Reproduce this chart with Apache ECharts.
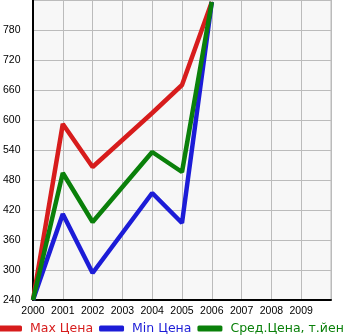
<!DOCTYPE html>
<html><head><meta charset="utf-8">
<script src="https://cdn.jsdelivr.net/npm/echarts@6/dist/echarts.min.js"></script>
<style>html,body{margin:0;padding:0;background:#fff}#c{width:345px;height:335px}</style>
</head><body><div id="c"></div>
<script>
const years = [2000, 2001, 2002, 2003, 2004, 2005, 2006];
const maxPrice = [240, 592, 506, 560, 614, 670, 836];
const minPrice = [240, 412, 294, 374, 454, 394, 836];
const avgPrice = [240, 494, 396, 466, 536, 496, 836];
const names = ['Max Цена', 'Min Цена', 'Сред.Цена, т.йен'];
const colors = ['#d71c1c', '#1c1cd7', '#0a800a'];

const chart = echarts.init(document.getElementById('c'), null, {renderer: 'canvas'});
const mk = (arr) => years.map((y, i) => [y, arr[i]]);
const font = 'DejaVu Sans';
const tickFont = 'Liberation Sans';
chart.setOption({
  animation: false,
  textStyle: {fontFamily: font},
  grid: {left: 31, right: 14, top: 0, bottom: 35, containLabel: false,
         show: true, backgroundColor: '#f7f7f7', borderColor: '#bbbbbb', borderWidth: 1},
  legend: {
    left: -3, top: 322, itemWidth: 25, itemHeight: 6, itemGap: 6, icon: 'roundRect',
    padding: 0,
    textStyle: {fontSize: 12.5, fontFamily: font, padding: [0, 0, 0, 3]},
    data: names.map((n, i) => ({name: n, textStyle: {color: colors[i]}}))
  },
  xAxis: {
    type: 'value', min: 2000, max: 2010, interval: 1,
    axisLine: {lineStyle: {color: '#000', width: 2}},
    axisTick: {show: false},
    axisLabel: {color: '#000', fontSize: 10.5, fontFamily: tickFont, margin: 6,
      formatter: v => v >= 2010 ? '' : String(v)},
    splitLine: {lineStyle: {color: '#bbbbbb', width: 1}}
  },
  yAxis: {
    type: 'value', min: 240, max: 840, interval: 60,
    axisLine: {show: true, lineStyle: {color: '#000', width: 2}},
    axisTick: {show: false},
    axisLabel: {color: '#000', fontSize: 10.5, fontFamily: tickFont, align: 'left', margin: 30,
      verticalAlign: 'middle', padding: [0, 0, 6, 0],
      formatter: v => v >= 840 ? '' : String(v)},
    splitLine: {lineStyle: {color: '#bbbbbb', width: 1}}
  },
  series: [
    {name: names[0], type: 'line', data: mk(maxPrice), showSymbol: false, symbol: 'none',
     lineStyle: {color: colors[0], width: 4.5}, itemStyle: {color: colors[0]}},
    {name: names[1], type: 'line', data: mk(minPrice), showSymbol: false, symbol: 'none',
     lineStyle: {color: colors[1], width: 4.5}, itemStyle: {color: colors[1]}},
    {name: names[2], type: 'line', data: mk(avgPrice), showSymbol: false, symbol: 'none',
     lineStyle: {color: colors[2], width: 4.5}, itemStyle: {color: colors[2]}}
  ]
});
</script></body></html>
